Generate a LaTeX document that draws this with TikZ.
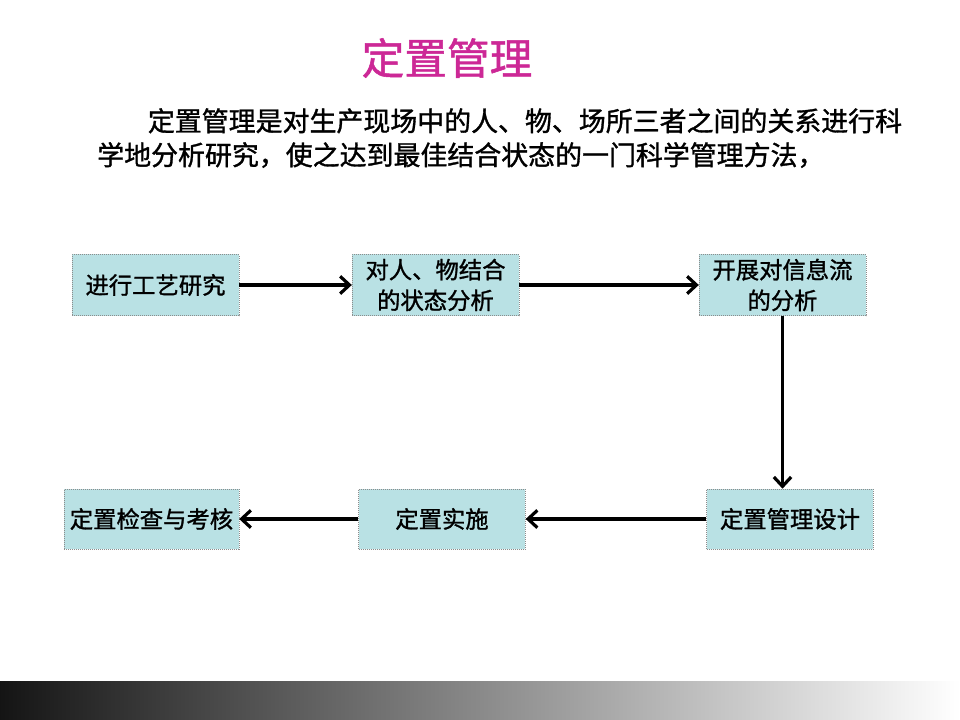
\documentclass[tikz,border=0pt]{standalone}
\usepackage{fontspec}
\newfontfamily\cjk{Noto Sans CJK SC}[FakeBold=1.2]
\usetikzlibrary{arrows.meta}
\definecolor{titlecol}{RGB}{204,40,150}
\definecolor{boxfill}{RGB}{185,225,228}
\colorlet{boxline}{black!45}
\def\boxw{125pt}
\def\boxh{46pt}

\tikzset{
  stepbox/.style={draw=boxline, densely dotted, line width=0.5pt, fill=boxfill,
    minimum width=\boxw, minimum height=\boxh, inner sep=1pt, align=center,
    font=\cjk\fontsize{17.5}{23}\selectfont},
  flow/.style={line width=2.4pt, -{Straight Barb[length=7pt,width=13pt,line width=2.4pt]}}
}

\begin{document}
\begin{tikzpicture}[x=0.75pt, y=-0.75pt]
  \useasboundingbox (0,0) rectangle (960,720);

  % title and description
  \node[titlecol, font=\cjk\fontsize{32}{36}\selectfont] (title) at (447,58) {定置管理};
  \node[anchor=north west, align=left, inner sep=0pt,
    font=\cjk\fontsize{20.2}{25.5}\selectfont] (desc) at (97,108)
    {\hspace*{38pt}定置管理是对生产现场中的人、物、场所三者之间的关系进行科\\
     学地分析研究，使之达到最佳结合状态的一门科学管理方法，};

  % first row
  \node[stepbox] (craft) at (155.5,285) {进行工艺研究};
  \node[stepbox] (state) at (435.5,285) {对人、物结合\\的状态分析};
  \node[stepbox] (info) at (782.5,285) {开展对信息流\\的分析};

  % second row
  \node[stepbox, minimum height=45pt] (design) at (790,519) {定置管理设计};
  \node[stepbox, minimum height=45pt] (apply) at (442,519) {定置实施};
  \node[stepbox, minimum height=45pt, minimum width=131pt] (check) at (151.5,519) {定置检查与考核};

  \draw[flow] (craft) -- (state);
  \draw[flow] (state) -- (info);
  \draw[flow] (info.south) -- (info.south |- design.north);
  \draw[flow] (design) -- (apply);
  \draw[flow] (apply) -- (check);

  % bottom bar
  \shade[left color=black!92, right color=white] (0,681) rectangle (960,720);
\end{tikzpicture}
\end{document}
